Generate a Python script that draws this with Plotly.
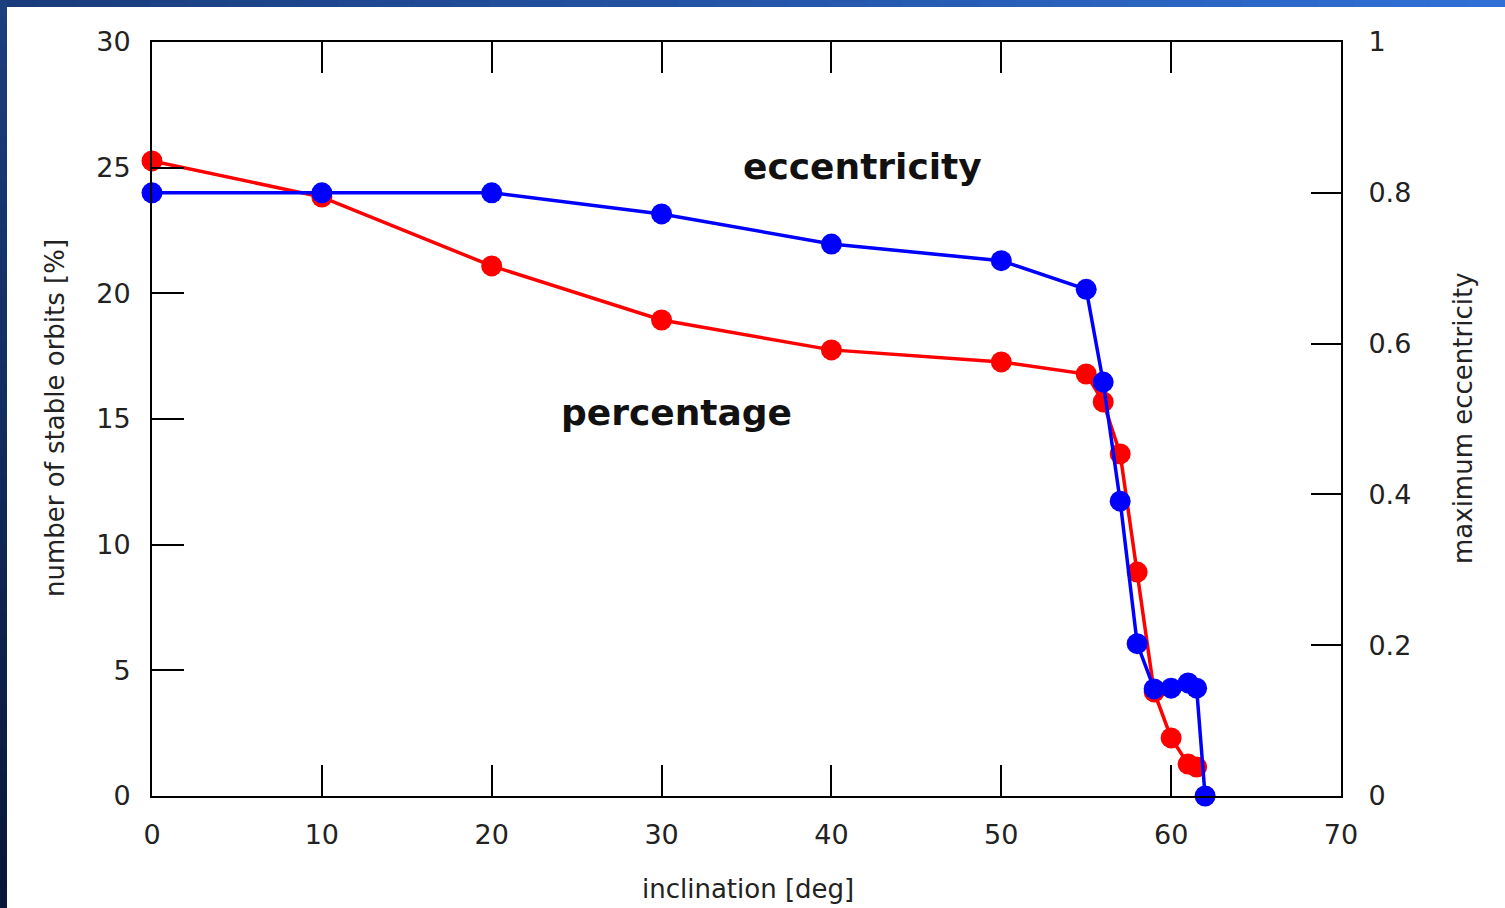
import plotly.graph_objects as go

# Data
inclination_pct = [0, 10, 20, 30, 40, 50, 55, 56, 57, 58, 59, 60, 61, 61.5]
percentage = [25.27, 23.83, 21.09, 18.94, 17.75, 17.27, 16.79, 15.68, 13.61, 8.91, 4.14, 2.31, 1.27, 1.15]

inclination_ecc = [0, 10, 20, 30, 40, 50, 55, 56, 57, 58, 59, 60, 61, 61.5, 62]
eccentricity = [0.80, 0.80, 0.80, 0.772, 0.732, 0.710, 0.672, 0.549, 0.391, 0.202, 0.142, 0.143, 0.150, 0.143, 0.0]

x_ticks = [0, 10, 20, 30, 40, 50, 60, 70]
y_ticks = [0, 5, 10, 15, 20, 25, 30]
y2_ticks = [0, 0.2, 0.4, 0.6, 0.8, 1]
y2_ticklabels = ["0", "0.2", "0.4", "0.6", "0.8", "1"]

W, H = 1505, 908
L, R, T, B = 152, 1341, 42, 796

FONT = "DejaVu Sans"
TICKCOL = "#222222"

fig = go.Figure()
# empty trace that only makes the top (mirror) axis exist
fig.add_trace(go.Scatter(x=[], y=[], xaxis="x2", yaxis="y", showlegend=False,
                         hoverinfo="skip"))
fig.add_trace(go.Scatter(
    x=inclination_pct, y=percentage, mode="lines+markers",
    line=dict(color="#ff0000", width=3.5),
    marker=dict(color="#ff0000", size=21),
    yaxis="y", showlegend=False, cliponaxis=False,
))
fig.add_trace(go.Scatter(
    x=inclination_ecc, y=eccentricity, mode="lines+markers",
    line=dict(color="#0000ff", width=3.5),
    marker=dict(color="#0000ff", size=21),
    yaxis="y2", showlegend=False, cliponaxis=False,
))

def px_to_paper_x(px):
    return (px - L) / (R - L)

def px_to_paper_y(py):
    return (B - py) / (B - T)

shapes = []
# top gradient strip
n = 40
c0 = (0x1a, 0x3c, 0x7c)
c1 = (0x30, 0x70, 0xd6)
for i in range(n):
    f = i / (n - 1)
    col = "rgb(%d,%d,%d)" % tuple(int(c0[k] + (c1[k] - c0[k]) * f) for k in range(3))
    x0 = W * i / n
    x1 = W * (i + 1) / n + 1
    shapes.append(dict(type="rect", xref="paper", yref="paper",
                       x0=px_to_paper_x(x0), x1=px_to_paper_x(x1),
                       y0=px_to_paper_y(0), y1=px_to_paper_y(7),
                       fillcolor=col, line=dict(width=0), layer="above"))
# left gradient strip
d0 = (0x1b, 0x3e, 0x7e)
d1 = (0x08, 0x18, 0x38)
for i in range(n):
    f = i / (n - 1)
    col = "rgb(%d,%d,%d)" % tuple(int(d0[k] + (d1[k] - d0[k]) * f) for k in range(3))
    y0 = H * i / n
    y1 = H * (i + 1) / n + 1
    shapes.append(dict(type="rect", xref="paper", yref="paper",
                       x0=px_to_paper_x(0), x1=px_to_paper_x(7),
                       y0=px_to_paper_y(y0), y1=px_to_paper_y(y1),
                       fillcolor=col, line=dict(width=0), layer="above"))

annotations = [
    dict(text="<b>eccentricity</b>", x=41.8, y=25.03, xref="x", yref="y",
         showarrow=False, font=dict(family=FONT, size=36, color="#111111")),
    dict(text="<b>percentage</b>", x=30.9, y=15.24, xref="x", yref="y",
         showarrow=False, font=dict(family=FONT, size=36, color="#111111")),
    dict(text="inclination [deg]", x=px_to_paper_x(748), y=px_to_paper_y(889),
         xref="paper", yref="paper", showarrow=False,
         xanchor="center", yanchor="middle",
         font=dict(family=FONT, size=26, color=TICKCOL)),
    dict(text="number of stable orbits [%]", x=px_to_paper_x(55), y=px_to_paper_y(418),
         xref="paper", yref="paper", showarrow=False, textangle=-90,
         xanchor="center", yanchor="middle",
         font=dict(family=FONT, size=26, color=TICKCOL)),
    dict(text="maximum eccentricity", x=px_to_paper_x(1463), y=px_to_paper_y(418),
         xref="paper", yref="paper", showarrow=False, textangle=-90,
         xanchor="center", yanchor="middle",
         font=dict(family=FONT, size=26, color=TICKCOL)),
]

axis_common = dict(tickwidth=2, tickcolor="black", showline=True, linecolor="black",
                   linewidth=2, showgrid=False, zeroline=False, ticks="inside",
                   tickfont=dict(family=FONT, size=27, color=TICKCOL))

fig.update_layout(
    width=W, height=H,
    margin=dict(l=L, r=W - R, t=T, b=H - B, pad=0),
    paper_bgcolor="white", plot_bgcolor="white",
    font=dict(family=FONT, size=27, color=TICKCOL),
    xaxis=dict(range=[0, 70], tickvals=x_ticks, ticklen=31,
               ticklabelstandoff=14, **axis_common),
    xaxis2=dict(range=[0, 70], tickvals=x_ticks, ticklen=31,
                overlaying="x", side="top", anchor="y", showticklabels=False,
                **axis_common),
    yaxis=dict(range=[0, 30], tickvals=y_ticks, ticklen=32,
               ticklabelstandoff=14, **axis_common),
    yaxis2=dict(range=[0, 1], tickvals=y2_ticks, ticktext=y2_ticklabels,
                overlaying="y", side="right", ticklen=30,
                ticklabelstandoff=20, **axis_common),
    shapes=shapes,
    annotations=annotations,
)

fig.write_html("out.html")
